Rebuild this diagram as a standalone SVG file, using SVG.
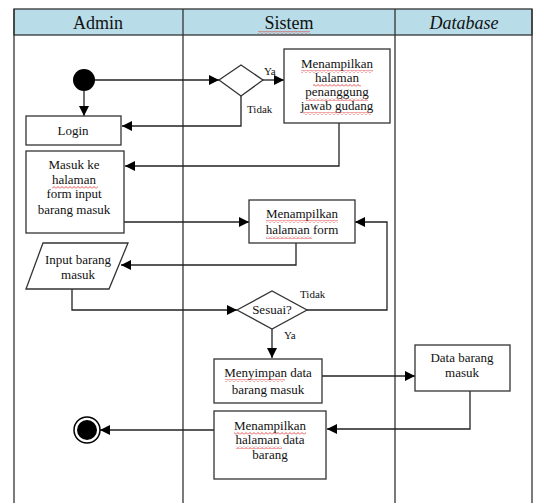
<svg xmlns="http://www.w3.org/2000/svg" width="534" height="503" viewBox="0 0 534 503">
<defs>
<marker id="ah" markerUnits="userSpaceOnUse" markerWidth="10" markerHeight="10" viewBox="0 0 10 10" refX="10" refY="5" orient="auto">
<path d="M0,0 L10,5 L0,10 z" fill="#000"/>
</marker>
<pattern id="wavy" patternUnits="userSpaceOnUse" width="4" height="3">
<polyline points="0,2.5 2,0.5 4,2.5" fill="none" stroke="#e02020" stroke-width="0.8"/>
</pattern>
</defs>
<style>
.lane{fill:none;stroke:#333;stroke-width:1.3}
.hdr{fill:#b8dde8;stroke:#333;stroke-width:1.3}
.box{fill:#fff;stroke:#333;stroke-width:1.3}
.t{font-family:"Liberation Serif","Times New Roman",serif;font-size:13px;fill:#111;text-anchor:middle}
.h{font-family:"Liberation Serif","Times New Roman",serif;font-size:18px;fill:#111;text-anchor:middle}
.lbl{font-family:"Liberation Serif","Times New Roman",serif;font-size:11px;fill:#111}
.c{fill:none;stroke:#222;stroke-width:1.3;marker-end:url(#ah)}
.cn{fill:none;stroke:#222;stroke-width:1.3}
.sq{fill:url(#wavy)}
</style>
<g id="swimlanes">
<rect class="hdr" x="14" y="9" width="518" height="26"/>
<line class="lane" x1="14" y1="9" x2="14" y2="503"/>
<line class="lane" x1="183" y1="9" x2="183" y2="503"/>
<line class="lane" x1="395" y1="9" x2="395" y2="503"/>
<line class="lane" x1="532" y1="9" x2="532" y2="503"/>
<text class="h" x="98" y="29">Admin</text>
<text class="h" x="289" y="29">Sistem</text>
<rect class="sq" x="258" y="31" width="52" height="3"/>
<text class="h" x="464" y="29" font-style="italic">Database</text>
</g>
<g id="connectors">
<path class="c" d="M95,80 H219"/>
<path class="c" d="M263,80 H284"/>
<path class="c" d="M84,91 V116"/>
<path class="c" d="M241,96 V126 H122"/>
<path class="c" d="M339,123 V166 H125"/>
<path class="c" d="M124,222 H249"/>
<path class="c" d="M296,243 V265 H121"/>
<path class="c" d="M72,289 V310 H237"/>
<path class="c" d="M307,310 H387 V222 H355"/>
<path class="c" d="M272,329 V358"/>
<path class="c" d="M322,376 H415"/>
<path class="c" d="M470,391 V429 H327"/>
<path class="c" d="M214,430 H100"/>
<text class="lbl" x="264" y="75">Ya</text>
<text class="lbl" x="247" y="113">Tidak</text>
<text class="lbl" x="300" y="298">Tidak</text>
<text class="lbl" x="284" y="339">Ya</text>
</g>
<g id="start">
<circle cx="84" cy="80" r="11" fill="#000"/>
</g>
<g id="decision1">
<polygon class="box" points="219,80 241,65 263,80 241,96"/>
</g>
<g id="tampil-pj">
<rect class="box" x="284" y="49" width="106" height="74"/>
<text class="t" x="337" y="68">Menampilkan</text>
<text class="t" x="337" y="82">halaman</text>
<text class="t" x="337" y="96">penanggung</text>
<text class="t" x="337" y="110">jawab gudang</text>
<rect class="sq" x="301" y="70" width="72" height="3"/>
<rect class="sq" x="313" y="84" width="48" height="3"/>
<rect class="sq" x="306" y="98" width="62" height="3"/>
<rect class="sq" x="303" y="112" width="68" height="3"/>
</g>
<g id="login">
<rect class="box" x="26" y="116" width="95" height="29"/>
<text class="t" x="73" y="135">Login</text>
</g>
<g id="masuk-form">
<rect class="box" x="26" y="151" width="98" height="82"/>
<text class="t" x="74" y="169">Masuk ke</text>
<text class="t" x="74" y="184">halaman</text>
<text class="t" x="74" y="198">form input</text>
<text class="t" x="74" y="214">barang masuk</text>
<rect class="sq" x="52" y="186" width="46" height="3"/>
</g>
<g id="tampil-form">
<rect class="box" x="249" y="200" width="106" height="43"/>
<text class="t" x="302" y="218">Menampilkan</text>
<text class="t" x="302" y="234">halaman form</text>
<rect class="sq" x="266" y="220" width="72" height="3"/>
<rect class="sq" x="266" y="236" width="46" height="3"/>
</g>
<g id="input-barang">
<polygon class="box" points="43,243 128,243 109,289 26,289"/>
<text class="t" x="78" y="264">Input barang</text>
<text class="t" x="78" y="279">masuk</text>
</g>
<g id="decision-sesuai">
<polygon class="box" points="237,310 272,291 307,310 272,329"/>
<text class="t" x="272" y="314">Sesuai?</text>
</g>
<g id="simpan">
<rect class="box" x="214" y="359" width="108" height="44"/>
<text class="t" x="268" y="377">Menyimpan data</text>
<text class="t" x="268" y="394">barang masuk</text>
<rect class="sq" x="225" y="379" width="60" height="3"/>
</g>
<g id="db-barang">
<rect class="box" x="415" y="345" width="95" height="46"/>
<text class="t" x="462" y="362">Data barang</text>
<text class="t" x="462" y="377">masuk</text>
</g>
<g id="tampil-data">
<rect class="box" x="214" y="411" width="112" height="68"/>
<text class="t" x="270" y="430">Menampilkan</text>
<text class="t" x="270" y="444">halaman data</text>
<text class="t" x="270" y="459">barang</text>
<rect class="sq" x="234" y="432" width="72" height="3"/>
<rect class="sq" x="236" y="446" width="46" height="3"/>
</g>
<g id="end">
<circle cx="87" cy="430" r="13" fill="#fff" stroke="#000" stroke-width="1.5"/>
<circle cx="87" cy="430" r="10" fill="#000"/>
</g>
</svg>
